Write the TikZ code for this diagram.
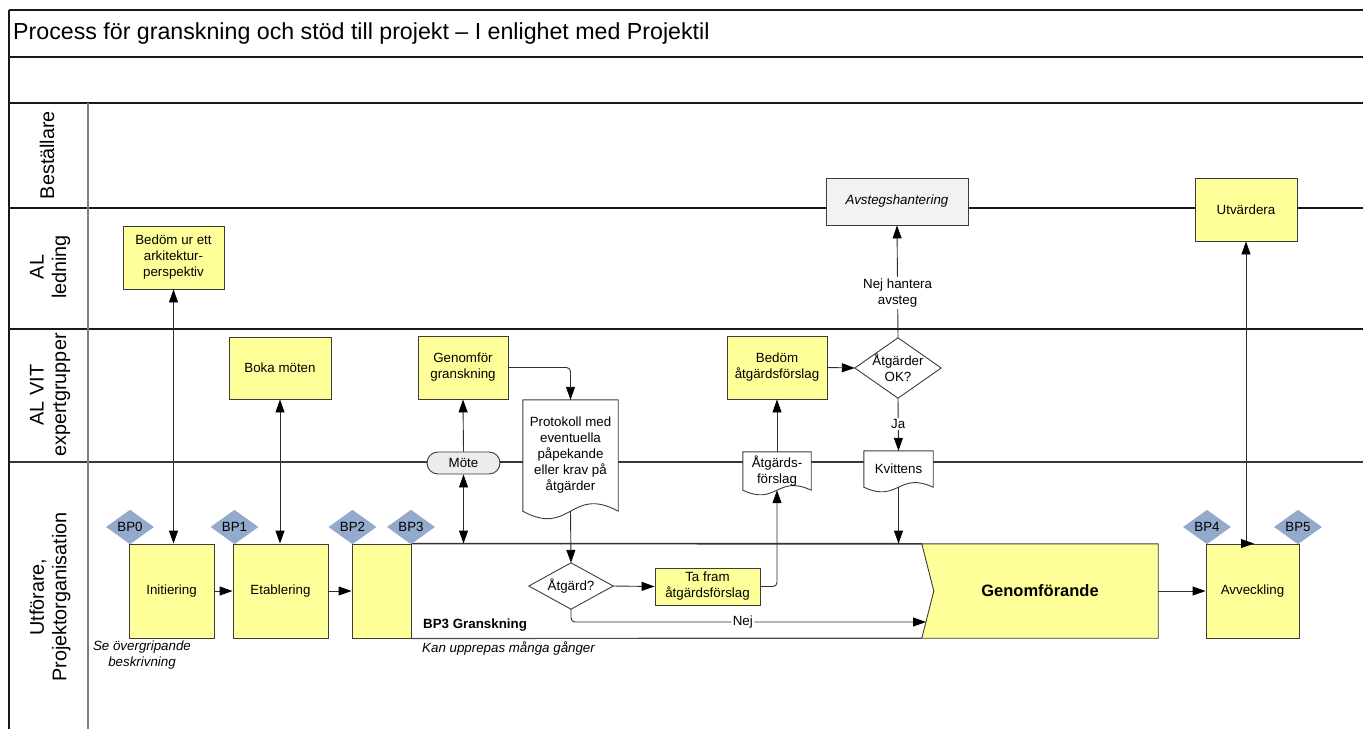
\documentclass[tikz,border=0pt]{standalone}
\usepackage{fontspec}
\setmainfont{Liberation Sans}
\usetikzlibrary{arrows.meta,calc,shapes.geometric}
\pgfdeclarelayer{bg}
\pgfsetlayers{bg,main}

\definecolor{taskfill}{RGB}{255,255,153}
\definecolor{bpfill}{RGB}{148,170,204}
\definecolor{notefill}{RGB}{242,242,242}
\definecolor{pillfill}{RGB}{236,236,236}
\definecolor{outline}{RGB}{60,60,60}
\definecolor{laneline}{RGB}{25,25,25}

\newcommand\txt{\fontsize{13.33}{16}\selectfont}
\newcommand\lanetxt{\fontsize{19.8}{22.5}\selectfont}

\tikzset{
  >={Triangle[length=13pt,width=9pt,color=black]},
  plain/.style={font=\txt, align=center, inner sep=0pt},
  task/.style={plain, draw=outline, line width=0.9pt, fill=taskfill},
  note/.style={plain, draw=outline, line width=0.9pt, fill=notefill},
  pill/.style={plain, draw=outline, line width=0.9pt, fill=pillfill, rounded corners=11pt},
  bpmark/.style={diamond, fill=bpfill, font=\txt, inner sep=0pt, minimum width=48pt, minimum height=30pt},
  outlinepath/.style={draw=outline, line width=0.9pt},
  conn/.style={draw=black!82, line width=0.9pt},
  lbl/.style={font=\txt, align=center, fill=white, inner sep=1.5pt},
  lane/.style={draw=laneline, line width=1.2pt},
  lanehead/.style={rotate=90, font=\lanetxt, align=center, inner sep=0pt},
}

\begin{document}
\begin{tikzpicture}[x=1pt,y=-1pt]
\useasboundingbox (0,0) rectangle (1363,729);

% ---------- frame, title rows and swimlanes ----------
\begin{pgfonlayer}{bg}
  \draw[lane] (9,10) -- (1363,10);
  \draw[lane] (9,57) -- (1363,57);
  \draw[lane] (9,103) -- (1363,103);
  \draw[lane] (9,208) -- (1363,208);
  \draw[lane] (9,329) -- (1363,329);
  \draw[draw=black!78, line width=2pt] (9,462) -- (1363,462);
  \draw[lane] (9,10) -- (9,729);
  \draw[draw=black!50, line width=1.2pt] (88,103) -- (88,729);
\end{pgfonlayer}

\node[anchor=west, font=\fontsize{23.2}{26}\selectfont, inner sep=0pt] (title) at (13,33)
  {Process för granskning och stöd till projekt – I enlighet med Projektil};

\node[lanehead] (hbest) at (47,155) {Beställare};
\node[lanehead] (hled) at (50,267) {AL\\ledning};
\node[lanehead] (hvit) at (50,395) {AL VIT\\expertgrupper};
\node[lanehead] (hutf) at (50,597) {Utförare,\\Projektorganisation};

% ---------- activities ----------
\node[task, minimum width=101pt, minimum height=63pt] (bedom) at (173.5,257.5) {Bedöm ur ett\\arkitektur-\\perspektiv};
\node[task, minimum width=102pt, minimum height=62pt] (boka) at (280,368) {Boka möten};
\node[task, minimum width=90pt, minimum height=63pt] (genomfor) at (463,367.5) {Genomför\\granskning};
\node[task, minimum width=100pt, minimum height=63pt] (bedomatg) at (777,367.5) {Bedöm\\åtgärdsförslag};
\node[note, minimum width=142pt, minimum height=47pt, font=\txt\itshape] (avsteg) at (897,201.5) {Avstegshantering};
\node[task, minimum width=102pt, minimum height=63pt] (utv) at (1246,209.5) {Utvärdera};

\node[task, minimum width=85pt, minimum height=94pt] (init) at (171.5,591) {Initiering};
\node[task, minimum width=95pt, minimum height=94pt] (etab) at (280.5,591) {Etablering};
\node[task, minimum width=59pt, minimum height=94pt] (bp3box) at (381.5,591) {};
\node[plain, minimum width=236pt, minimum height=94pt, font=\fontsize{16.5}{19}\selectfont\bfseries] (genom) at (1040,591) {Genomförande};
\node[task, minimum width=93pt, minimum height=94pt] (avv) at (1252.5,591) {Avveckling};
\node[task, minimum width=105pt, minimum height=37pt] (tafram) at (707.5,586.5) {Ta fram\\åtgärdsförslag};
\node[pill, minimum width=73pt, minimum height=22pt] (mote) at (463.5,463) {Möte};

% documents (outline drawn on the background layer)
\node[plain, minimum width=95pt, minimum height=111pt] (protokoll) at (570.5,455.5) {Protokoll med\\eventuella\\påpekande\\eller krav på\\åtgärder};
\node[plain, minimum width=68pt, minimum height=38pt] (atgforslag) at (777,471) {Åtgärds-\\förslag};
\node[plain, minimum width=69pt, minimum height=36pt] (kvittens) at (898.5,469) {Kvittens};

% decisions (outline drawn on the background layer)
\node[plain, minimum width=84pt, minimum height=46pt] (atg) at (571,586) {Åtgärd?};
\node[plain, minimum width=86pt, minimum height=60pt] (ok) at (898,368) {Åtgärder\\OK?};

% milestones
\node[bpmark] (bp0) at (130,527) {BP0};
\node[bpmark] (bp1) at (234.5,527) {BP1};
\node[bpmark] (bp2) at (352.5,527) {BP2};
\node[bpmark] (bp3) at (411,527) {BP3};
\node[bpmark] (bp4) at (1207,527) {BP4};
\node[bpmark] (bp5) at (1298,527) {BP5};

% notes
\node[plain, anchor=west, font=\txt\bfseries] (granskning) at (423,625) {BP3 Granskning};
\node[plain, anchor=west, font=\txt\itshape] (upprepas) at (422,648) {Kan upprepas många gånger};
\node[plain, font=\txt\itshape, text depth=0pt] (overgrip) at (142,654) {Se övergripande\\beskrivning};

% ---------- shapes behind the texts ----------
\begin{pgfonlayer}{bg}
  % review phase area and the execution chevron
  \draw[draw=black!80, line width=1.6pt] (bp3box.north east) -- (genom.north west);
  \draw[draw=black!70, line width=1.2pt] (bp3box.south east) -- (genom.south west);
  \filldraw[fill=taskfill, outlinepath] (genom.north west) -- (genom.north east) -- (genom.south east)
    -- (genom.south west) -- ($(genom.west)+(12,0)$) -- cycle;
  % document shapes with wavy bottom
  \foreach \n/\a in {protokoll/26, atgforslag/16, kvittens/16}{
    \filldraw[fill=white, outlinepath] (\n.north west) -- (\n.north east) -- (\n.south east)
      .. controls ($(\n.south)+(0,-\a)$) and ($(\n.south)+(0,\a)$) .. (\n.south west) -- cycle;
  }
  % decision diamonds
  \foreach \n in {atg, ok}{
    \filldraw[fill=white, outlinepath] (\n.north) -- (\n.east) -- (\n.south) -- (\n.west) -- cycle;
  }
\end{pgfonlayer}

% ---------- connectors ----------
\draw[conn,<->] (bedom.south) -- (bedom.south |- init.north);
\draw[conn,<->] (boka.south) -- (boka.south |- etab.north);
\draw[conn,->] (init.east) -- (etab.west);
\draw[conn,->] (etab.east) -- (bp3box.west);
\draw[conn,->] (mote.north) -- (genomfor.south);
\coordinate (motedrop) at (mote.south |- bp3box.north);
\draw[conn,<->] (mote.south) -- (motedrop);
\draw[conn,->,rounded corners=4pt] (genomfor.east) -| (protokoll.north);
\draw[conn,->] (protokoll.south) -- (atg.north);
\draw[conn,->] (atg.east) -- (tafram.west);
\draw[conn,->,rounded corners=4pt] (tafram.east) -| (atgforslag.south);
\draw[conn,->] (atgforslag.north) -- (bedomatg.south);
\draw[conn,->] (bedomatg.east) -- (ok.west);
\draw[conn,->] (ok.north) -- node[lbl, pos=0.4] {Nej hantera\\avsteg} (avsteg.south);
\draw[conn,->] (ok.south) -- node[lbl, pos=0.49] {Ja} (kvittens.north);
\coordinate (kvdrop) at (kvittens.south |- bp3box.north);
\draw[conn,->] (kvittens.south) -- (kvdrop);
\coordinate (nejend) at (926,622);
\draw[conn,->,rounded corners=4pt] (atg.south) |- node[lbl, pos=0.742] {Nej} (nejend);
\draw[conn,->] (genom.east) -- (avv.west);
\coordinate (avvtop) at (utv.south |- avv.north);
\draw[conn,<->] (utv.south) -- (avvtop) -- ++(8,0);
\end{tikzpicture}
\end{document}
